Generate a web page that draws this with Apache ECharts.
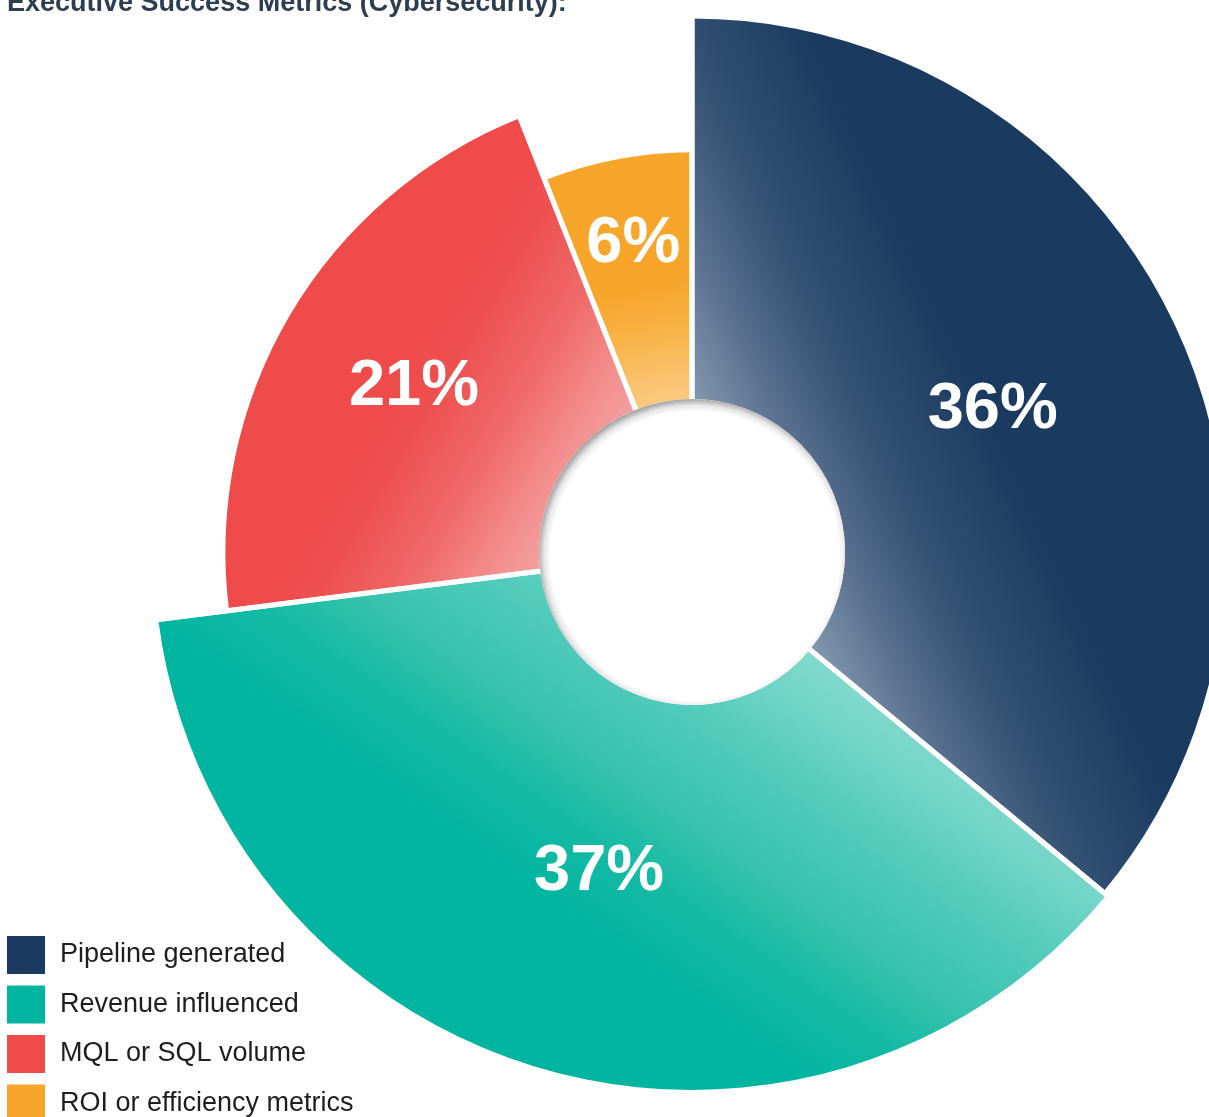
<!DOCTYPE html>
<html>
<head>
<meta charset="utf-8">
<script src="https://cdn.jsdelivr.net/npm/echarts@6/dist/echarts.min.js"></script>
<style>
  html, body { margin: 0; padding: 0; background: #ffffff; }
  #chart { width: 1209px; height: 1117px; }
</style>
</head>
<body>
<div id="chart"></div>
<script>
// ---- data ----
const titleText = 'Executive Success Metrics (Cybersecurity):';
const categories = ['Pipeline generated', 'Revenue influenced', 'MQL or SQL volume', 'ROI or efficiency metrics'];
const shares = [36, 37, 21, 6];

// ---- styling ----
const baseColors = ['#1b3a5f', '#00b5a0', '#ef4b4b', '#f7a52b'];
// Each slice fades from a pale tint near the hub to its full colour outward.
// angle: direction of the fade (degrees clockwise from 12 o'clock); stops: [distance px, colour]
const shading = [
  { angle: 64.8,  stops: [[0, '#a7b5c5'], [68, '#8397ad'], [134, '#5a7290'], [195, '#3d5878'], [232, '#2e4d70'], [330, '#1b3a5f']] },
  { angle: 215,   stops: [[0, '#86dace'], [60, '#72d5c8'], [120, '#56ccbd'], [220, '#38c3ae'], [290, '#16baa4'], [370, '#00b5a0']] },
  { angle: 300.6, stops: [[0, '#f7b0b0'], [130, '#f49c9c'], [160, '#f38f8f'], [226, '#f06a6a'], [300, '#ee5050'], [340, '#ef4b4b']] },
  { angle: 349.2, stops: [[0, '#fdd89f'], [160, '#fbc77a'], [230, '#f8b040'], [268, '#f7a52b']] }
];
const CX = 692, CY = 552;
const FONT = "'Liberation Sans', Arial, Helvetica, sans-serif";

function sliceGradient(s) {
  const len = 560;
  const a = s.angle * Math.PI / 180;
  return {
    type: 'linear', global: true,
    x: CX, y: CY,
    x2: CX + Math.sin(a) * len, y2: CY - Math.cos(a) * len,
    colorStops: s.stops.map(([d, c]) => ({ offset: d / len, color: c }))
  };
}

const fills = shading.map(sliceGradient);
const sliceData = categories.map((name, i) => ({
  name: name, value: shares[i], itemStyle: { color: fills[i] }
}));
const clearData = categories.map((name, i) => ({
  name: name, value: shares[i], itemStyle: { color: 'rgba(0,0,0,0)' }
}));

const common = {
  type: 'pie',
  center: [CX, CY],
  startAngle: 90,
  clockwise: true,
  silent: true,
  label: { show: false },
  labelLine: { show: false },
  emphasis: { disabled: true },
  animation: false
};

const chart = echarts.init(document.getElementById('chart'), null, { renderer: 'canvas' });
chart.setOption({
  backgroundColor: '#ffffff',
  animation: false,
  title: {
    text: titleText,
    left: 7,
    top: -10,
    padding: 0,
    textStyle: { fontFamily: FONT, fontSize: 27, fontWeight: 'bold', color: '#2c3e50' }
  },
  legend: {
    orient: 'vertical',
    left: 7,
    top: 936,
    height: 220,
    padding: 0,
    itemWidth: 38,
    itemHeight: 38,
    itemGap: 11.5,
    icon: 'rect',
    selectedMode: false,
    textStyle: { fontFamily: FONT, fontSize: 27, color: '#1e1e1e', padding: [6, 0, 0, 10] },
    data: categories.map((name, i) => ({ name: name, itemStyle: { color: baseColors[i] } }))
  },
  series: [
    // outer part: radius grows with the share
    Object.assign({}, common, {
      roseType: 'radius',
      radius: [373, 538],
      data: sliceData
    }),
    // inner part of each slice, down to the hub
    Object.assign({}, common, {
      radius: [153, 377],
      data: sliceData
    }),
    // white gaps between slices
    Object.assign({}, common, {
      radius: [150, 546],
      data: categories.map((name, i) => ({
        name: name, value: shares[i],
        itemStyle: { color: 'rgba(0,0,0,0)', borderColor: '#ffffff', borderWidth: 5 }
      }))
    }),
    // recessed hub
    Object.assign({}, common, {
      radius: [0, 153],
      data: [{
        name: 'hub', value: 1,
        itemStyle: {
          color: {
            type: 'radial', global: true, x: CX + 3, y: CY + 4, r: 157,
            colorStops: [
              { offset: 0, color: '#ffffff' },
              { offset: 0.92, color: '#ffffff' },
              { offset: 0.96, color: '#e6e6e6' },
              { offset: 1, color: '#a4a4a4' }
            ]
          }
        }
      }]
    }),
    // percentage labels
    Object.assign({}, common, {
      roseType: 'radius',
      radius: [307, 353],
      z: 5,
      data: clearData,
      label: {
        show: true,
        position: 'inside',
        formatter: '{d}%',
        fontFamily: FONT,
        fontSize: 65,
        fontWeight: 'bold',
        color: '#ffffff'
      }
    })
  ]
});
</script>
</body>
</html>
